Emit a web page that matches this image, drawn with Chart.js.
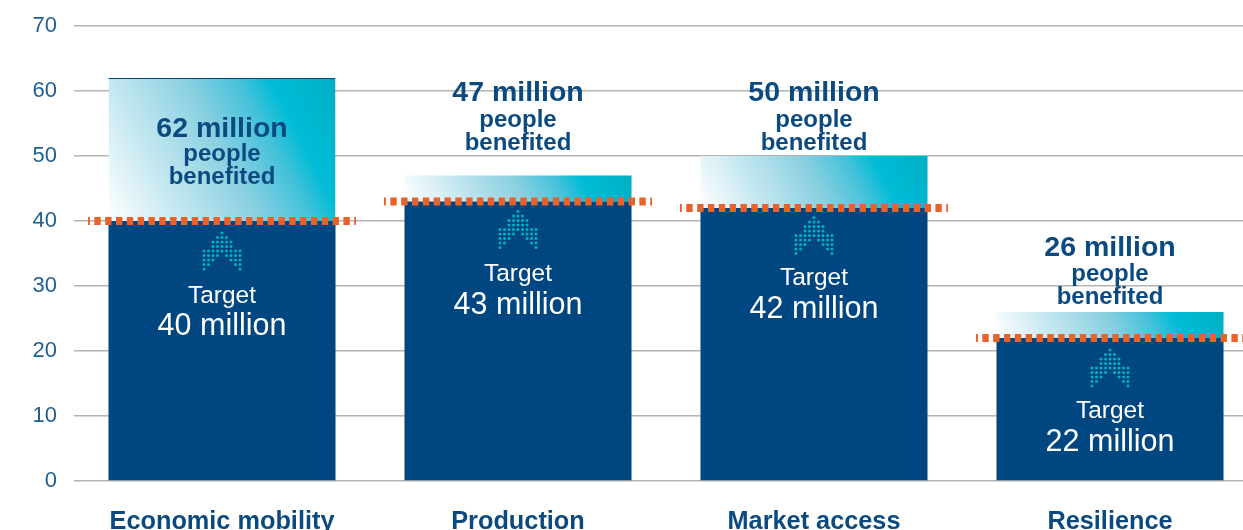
<!DOCTYPE html>
<html>
<head>
<meta charset="utf-8">
<style>
  html, body { margin: 0; padding: 0; background: #fff; overflow: hidden; }
  #wrap { width: 1243px; height: 530px; overflow: hidden; }
</style>
<script src="https://cdn.jsdelivr.net/npm/chart.js@4"></script>
</head>
<body>
<div id="wrap"><canvas id="impactChart"></canvas></div>
<script>
// Data for the chart
const categories = ['Economic mobility', 'Production', 'Market access', 'Resilience'];
const targets = [40, 43, 42, 22];
const benefited = [62, 47, 50, 26];
const tickLabels = [0, 10, 20, 30, 40, 50, 60, 70];

const NAVY = '#004680';
const TEXT_BLUE = '#0b4a80';
const ORANGE = '#e8622a';
const FONT = '"Liberation Sans", Arial, sans-serif';

// hand placement of the annotations, in px from the target line / bar top
const arrowOffset = [12, 10, 9.5, 12];
const targetTextOffset = [75, 73, 70.5, 73.5];
const benefitTextOffset = [51, -82, -63, -64];
const peopleLineGap = [25.5, 27, 27, 26];

// diagonal white to cyan fill for the part above the target
function excessFill(ctx) {
  const chart = ctx.chart;
  if (!chart.chartArea) return '#00bcd6';
  const i = ctx.dataIndex;
  const xs = chart.scales.x, ys = chart.scales.y;
  const half = 113.5;
  const cx = xs.getPixelForValue(i);
  const bottom = ys.getPixelForValue(targets[i]);
  const top = ys.getPixelForValue(benefited[i]);
  const x0 = cx - half, w = half * 2, h = bottom - top;
  const dx = 0.885, dy = -0.466;
  const len = w * dx + h * -dy;
  const g = chart.ctx.createLinearGradient(x0, bottom, x0 + dx * len, bottom + dy * len);
  g.addColorStop(0, '#ffffff');
  g.addColorStop(0.5, '#8ad0e1');
  g.addColorStop(0.68, '#42c1da');
  g.addColorStop(0.78, '#00bcd6');
  g.addColorStop(1, '#00aec6');
  return g;
}

// dashed target line, dotted arrow and the text on each bar
const annotate = {
  id: 'annotate',
  afterDatasetsDraw(chart) {
    const { ctx, scales: { x, y } } = chart;
    categories.forEach((name, i) => {
      const cx = x.getPixelForValue(i);
      const ty = y.getPixelForValue(targets[i]);

      ctx.save();
      ctx.strokeStyle = ORANGE;
      ctx.lineWidth = 8;
      ctx.setLineDash([6.4, 4.43]);
      ctx.lineDashOffset = 4.5;
      ctx.beginPath();
      ctx.moveTo(cx - 134, ty);
      ctx.lineTo(cx + 134, ty);
      ctx.stroke();
      ctx.restore();

      drawArrow(ctx, cx, ty + arrowOffset[i]);

      ctx.save();
      ctx.textAlign = 'center';
      ctx.textBaseline = 'middle';
      ctx.fillStyle = '#fff';
      ctx.font = '24.5px ' + FONT;
      ctx.fillText('Target', cx, ty + targetTextOffset[i]);
      ctx.font = '30.5px ' + FONT;
      ctx.fillText(targets[i] + ' million', cx, ty + targetTextOffset[i] + 31);

      const top = y.getPixelForValue(benefited[i]) + benefitTextOffset[i];
      ctx.fillStyle = TEXT_BLUE;
      ctx.font = 'bold 28.5px ' + FONT;
      ctx.fillText(benefited[i] + ' million', cx, top);
      ctx.font = 'bold 24px ' + FONT;
      ctx.fillText('people', cx, top + peopleLineGap[i]);
      ctx.fillText('benefited', cx, top + peopleLineGap[i] + 23);
      ctx.restore();
    });
  }
};

// chevron made of small teal dots
function drawArrow(ctx, cx, top) {
  const step = 4.5;
  const rows = [[0], [-1, 0, 1], [-2, -1, 0, 1, 2], [-2, -1, 0, 1, 2], [-4, -3, -2, -1, 0, 1, 2, 3, 4],
    [-4, -3, -2, -1, 1, 2, 3, 4], [-4, -3, -2, 2, 3, 4], [-4, -3, 3, 4], [-4, 4]];
  ctx.save();
  ctx.fillStyle = '#00b0c8';
  rows.forEach((row, r) => {
    row.forEach(c => {
      ctx.beginPath();
      ctx.arc(cx + c * step, top + r * step, 1.5, 0, Math.PI * 2);
      ctx.fill();
    });
  });
  ctx.restore();
}

const canvas = document.getElementById('impactChart');
canvas.width = 1258;
canvas.height = 530;
canvas.style.width = '1258px';
canvas.style.height = '530px';

const impactChart = new Chart(canvas.getContext('2d'), {
  type: 'bar',
  data: {
    labels: categories,
    datasets: [
      { label: 'Target', data: targets, backgroundColor: NAVY, barPercentage: 0.767, categoryPercentage: 1 },
      {
        label: 'Above target',
        data: benefited.map((v, i) => v - targets[i]),
        backgroundColor: excessFill,
        borderColor: NAVY,
        borderSkipped: false,
        borderWidth: ctx => ({ top: ctx.dataIndex === 0 ? 1 : 0, left: 0, right: 0, bottom: 0 }),
        barPercentage: 0.767,
        categoryPercentage: 1
      }
    ]
  },
  options: {
    responsive: false,
    animation: false,
    layout: { padding: 0 },
    plugins: { legend: { display: false }, tooltip: { enabled: false } },
    scales: {
      x: {
        stacked: true,
        grid: { display: false },
        border: { display: false },
        ticks: { color: TEXT_BLUE, font: { family: FONT, size: 25.3, weight: 'bold' }, padding: 18, maxRotation: 0 },
        afterFit(s) { s.height = 49; }
      },
      y: {
        stacked: true,
        min: 0,
        max: 70,
        afterBuildTicks(s) { s.ticks = tickLabels.map(v => ({ value: v })); },
        grid: { color: '#b4b4b4', lineWidth: 1.5, drawTicks: false },
        border: { display: false },
        ticks: { color: '#1f5f90', font: { family: FONT, size: 22 }, padding: 17 },
        afterFit(s) { s.width = 74; s.paddingTop = 26; }
      }
    }
  },
  plugins: [annotate]
});
</script>
</body>
</html>
